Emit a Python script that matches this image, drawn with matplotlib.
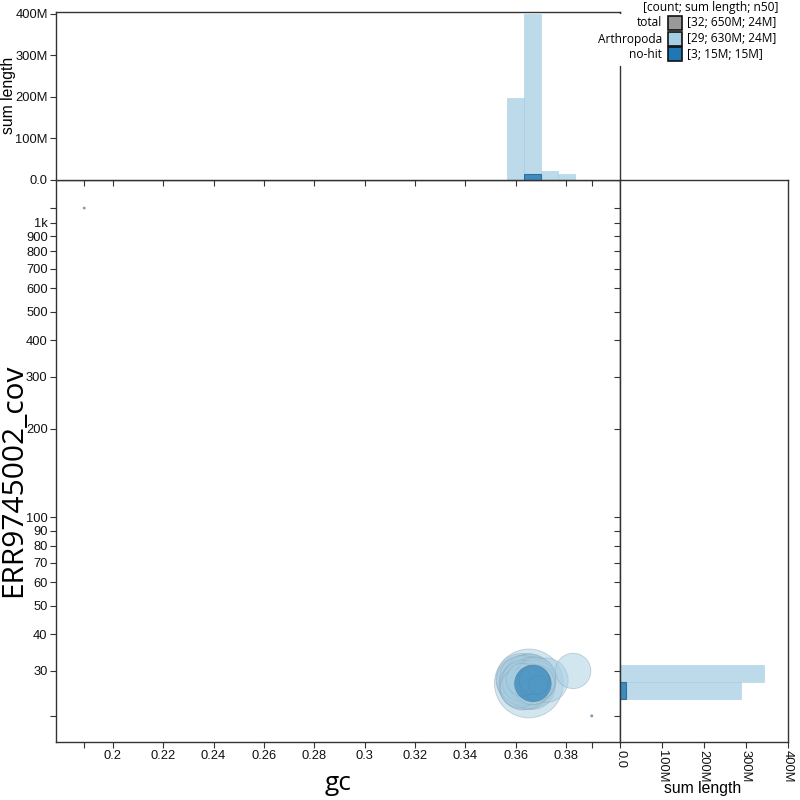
import numpy as np
import matplotlib
matplotlib.use("Agg")
import matplotlib.pyplot as plt
from matplotlib.patches import Rectangle

# ---------------- data ----------------
# Arthropoda contigs
art_gc = [0.3624, 0.3628, 0.3618, 0.3630, 0.3626, 0.3622, 0.3629, 0.3615, 0.3627,
          0.3645, 0.3655, 0.3641, 0.3660, 0.3650, 0.3643, 0.3665, 0.3662, 0.3670,
          0.3648, 0.3675, 0.3658, 0.3680, 0.3668, 0.3685, 0.3672, 0.3690, 0.3652,
          0.3720, 0.3828]
art_cov = [28.1, 26.8, 27.9, 26.5, 28.4, 27.1, 27.7, 26.2, 28.0,
           28.0, 28.3, 27.8, 26.9, 28.6, 27.2, 26.6, 27.9, 28.2,
           26.4, 27.7, 27.0, 28.5, 26.7, 27.3, 28.0, 26.9, 27.2,
           27.9, 30.0]
art_len_m = [30, 26, 25, 24, 23, 21, 20, 17, 12,
             28, 27, 26, 25, 24, 24, 24, 23, 22,
             21, 20, 19, 18, 16, 14, 10, 4, 53,
             22, 14]
# no-hit contigs
nohit_gc = [0.3668, 0.3902, 0.1886]
nohit_cov = [27.2, 21.1, 1124.0]
nohit_len_m = [14.9, 0.06, 0.04]

legend_names = ["total", "Arthropoda", "no-hit"]
legend_stats = ["[32; 650M; 24M]", "[29; 630M; 24M]", "[3; 15M; 15M]"]
legend_header = "[count; sum length; n50]"

x_ticks = [0.2, 0.22, 0.24, 0.26, 0.28, 0.3, 0.32, 0.34, 0.36, 0.38]
x_tick_labels = ["0.2", "0.22", "0.24", "0.26", "0.28", "0.3", "0.32", "0.34", "0.36", "0.38"]
y_ticks = [30, 40, 50, 60, 70, 80, 90, 100, 200, 300, 400, 500, 600, 700, 800, 900, 1000]
y_tick_labels = ["30", "40", "50", "60", "70", "80", "90", "100", "200", "300", "400",
                 "500", "600", "700", "800", "900", "1k"]
len_ticks = [0, 100e6, 200e6, 300e6, 400e6]
len_tick_labels = ["0.0", "100M", "200M", "300M", "400M"]
n_bins = 30

# ---------------- style ----------------
LIGHT = "#a6cee3"
DARK = "#1f78b4"
SPINE = "#333333"
TICKFONT = "Liberation Sans"
LABFONT = "Open Sans"

art_gc = np.array(art_gc); art_cov = np.array(art_cov); art_len = np.array(art_len_m) * 1e6
nh_gc = np.array(nohit_gc); nh_cov = np.array(nohit_cov); nh_len = np.array(nohit_len_m) * 1e6
all_gc = np.concatenate([art_gc, nh_gc]); all_cov = np.concatenate([art_cov, nh_cov])

fig = plt.figure(figsize=(8, 8), dpi=100)
W = H = 800.0
def fx(px): return px / W
def fy(py): return 1 - py / H

L, R, T, B = 56, 620, 180, 742
ax = fig.add_axes([fx(L), fy(B), fx(R) - fx(L), fy(T) - fy(B)])
axt = fig.add_axes([fx(L), fy(T), fx(R) - fx(L), fy(12) - fy(T)], sharex=ax)
axr = fig.add_axes([fx(R), fy(B), fx(788) - fx(R), fy(T) - fy(B)], sharey=ax)

# scatter
def sizes(lengths):
    return np.maximum(lengths / 21600.0, 2.5)

order = np.argsort(-art_len)
ax.scatter(art_gc[order], art_cov[order], s=sizes(art_len[order]), c=LIGHT, alpha=0.5,
           edgecolors="#8ea5b3", linewidths=0.6, zorder=2)
ax.scatter(nh_gc, nh_cov, s=sizes(nh_len), c=DARK, alpha=0.62,
           edgecolors="#4a7a9a", linewidths=0.5, zorder=3)

ax.set_yscale("log")
ax.set_xlim(0.1774, 0.4014)
ax.set_ylim(17.2, 1400)

# histogram bins over data extent
gc_edges = np.linspace(all_gc.min(), all_gc.max(), n_bins + 1)
cov_edges = np.logspace(np.log10(all_cov.min()), np.log10(all_cov.max()), n_bins + 1)

h_art_x, _ = np.histogram(art_gc, bins=gc_edges, weights=art_len)
h_nh_x, _ = np.histogram(nh_gc, bins=gc_edges, weights=nh_len)
h_art_y, _ = np.histogram(art_cov, bins=cov_edges, weights=art_len)
h_nh_y, _ = np.histogram(nh_cov, bins=cov_edges, weights=nh_len)

axt.bar(gc_edges[:-1], h_art_x, width=np.diff(gc_edges), align="edge",
        color=LIGHT, alpha=0.75, edgecolor=LIGHT, linewidth=0.5)
axt.bar(gc_edges[:-1], h_nh_x, width=np.diff(gc_edges), align="edge",
        color=DARK, alpha=0.8, edgecolor="#1a5f8f", linewidth=0.8)
axt.set_ylim(0, 404e6)

axr.barh(cov_edges[:-1], h_art_y, height=np.diff(cov_edges), align="edge",
         color=LIGHT, alpha=0.75, edgecolor=LIGHT, linewidth=0.5)
axr.barh(cov_edges[:-1], h_nh_y, height=np.diff(cov_edges), align="edge",
         color=DARK, alpha=0.8, edgecolor="#1a5f8f", linewidth=0.8)
axr.set_xlim(0, 401e6)

# ticks
xt = list(x_ticks) + [all_gc.min(), all_gc.max()]
xl = list(x_tick_labels) + ["", ""]
ax.set_xticks(xt)
ax.set_xticklabels(xl)
yt = list(y_ticks) + [all_cov.min(), all_cov.max()]
yl = list(y_tick_labels) + ["", ""]
ax.set_yticks(yt)
ax.set_yticklabels(yl)
ax.yaxis.set_minor_locator(matplotlib.ticker.NullLocator())

axt.set_yticks(len_ticks)
axt.set_yticklabels(len_tick_labels)
axr.set_xticks(len_ticks)
axr.set_xticklabels(len_tick_labels, rotation=-90)

for a in (ax, axt, axr):
    for s in a.spines.values():
        s.set_color(SPINE)
        s.set_linewidth(1.0)
    a.tick_params(direction="out", length=4, width=0.8, color=SPINE,
                  labelsize=9.3, pad=2)
    for lab in a.get_xticklabels() + a.get_yticklabels():
        lab.set_family(TICKFONT)
        lab.set_color("#111111")

axt.tick_params(axis="x", labelbottom=False)
axr.tick_params(axis="y", labelleft=False)

fig.text(fx(9), fy(95), "sum length", rotation=90, ha="center", va="center",
         family=TICKFONT, fontsize=11.3)
fig.text(fx(703), fy(789), "sum length", ha="center", va="center",
         family=TICKFONT, fontsize=11.3)
fig.text(fx(338), fy(784), "gc", ha="center", va="center",
         family=LABFONT, fontsize=19)
fig.text(fx(14), fy(480), "ERR9745002_cov", rotation=90, ha="center", va="center",
         family=LABFONT, fontsize=21.5)

# legend
fig.add_artist(Rectangle((fx(600), fy(66)), fx(790) - fx(600), fy(14) - fy(66),
                         transform=fig.transFigure, facecolor="white", edgecolor="none",
                         zorder=10))
fig.text(fx(711), fy(7), legend_header, ha="center", va="center", family=LABFONT,
         fontsize=8.6, zorder=11)
box_cols = ["#999999", LIGHT, DARK]
row_y = [23, 39, 54]
for name, stat, col, yy in zip(legend_names, legend_stats, box_cols, row_y):
    fig.text(fx(662), fy(yy), name, ha="right", va="center", family=LABFONT,
             fontsize=8.6, zorder=11)
    fig.add_artist(Rectangle((fx(668), fy(yy + 7)), fx(14), 14 / H,
                             transform=fig.transFigure, facecolor=col,
                             edgecolor="#111111", linewidth=1.2, zorder=11))
    fig.text(fx(687), fy(yy), stat, ha="left", va="center", family=LABFONT,
             fontsize=8.6, zorder=11)

fig.savefig("out.png", dpi=100)
